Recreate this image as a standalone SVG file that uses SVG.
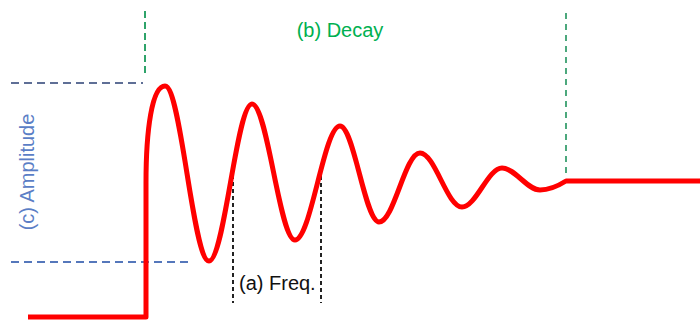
<svg xmlns="http://www.w3.org/2000/svg" width="700" height="320" viewBox="0 0 700 320">
  <style>
    .lbl { font-family: "Liberation Sans", Arial, sans-serif; font-size: 20px; }
    .blue { stroke: #5577BB; stroke-width: 2; stroke-dasharray: 8 5; fill: none; }
    .blue-top { stroke: #5F6F96; }
    .green { stroke: #2EA36A; stroke-width: 2; stroke-dasharray: 7 4; fill: none; }
    .green2 { stroke: #3A9F6F; stroke-width: 1.8; stroke-dasharray: 6 5; fill: none; }
    .black { stroke: #222; stroke-width: 2; stroke-dasharray: 4 3; fill: none; }
    .sig { stroke: #FF0000; stroke-width: 5; fill: none; stroke-linejoin: round; }
  </style>
  <rect width="700" height="320" fill="#ffffff"/>
  <g id="guides">
    <line class="blue blue-top" x1="11" y1="83" x2="143" y2="83"/>
    <line class="blue" x1="11" y1="262" x2="190" y2="262"/>
    <line class="green" x1="145" y1="11" x2="145" y2="75"/>
    <line class="green2" x1="566" y1="13" x2="566" y2="174"/>
    <line class="black" x1="233" y1="175" x2="233" y2="303"/>
    <line class="black" x1="321" y1="176" x2="321" y2="303"/>
  </g>
  <g id="signal">
    <path class="sig" d="M28,317 L146,317 L146,183 C146,130 152,86 165,86 C181,86 193,261 209,261 C224.5,261 236.5,104 252,104 C267.5,104 279.5,240 295,240 C311,240 324,126 340,126 C354,126 365,222 379,222 C394,222 405,153 420,153 C435,153 447,207 462,207 C476,207 488,168 502,168 C515,168 527,190 540,190 C550,190 558,186 566,181 L700,181"/>
  </g>
  <g id="label-decay">
    <text class="lbl" x="340" y="37" text-anchor="middle" fill="#00B050">(b) Decay</text>
  </g>
  <g id="label-amplitude">
    <text class="lbl" transform="translate(34,172) rotate(-90)" text-anchor="middle" fill="#5B7EC6">(c) Amplitude</text>
  </g>
  <g id="label-freq">
    <text class="lbl" x="239" y="290" fill="#111">(a) Freq.</text>
  </g>
</svg>
